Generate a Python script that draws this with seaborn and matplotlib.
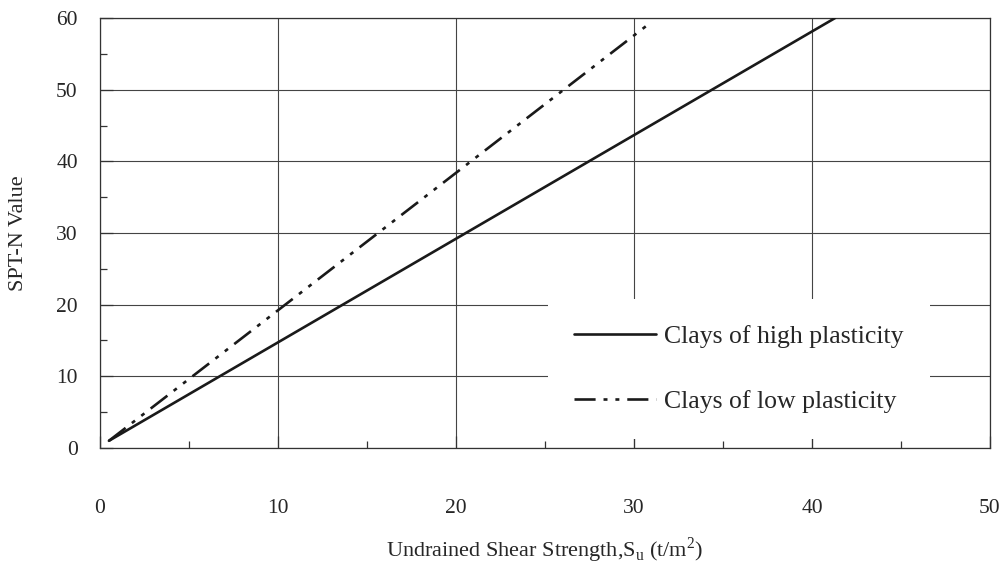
import matplotlib
matplotlib.use("Agg")
import matplotlib.pyplot as plt
import seaborn as sns
import pandas as pd
from matplotlib.ticker import MultipleLocator
from matplotlib.lines import Line2D

# Data
su_high = [0.5, 41.3]
n_high = [1.0, 60.0]
su_low = [0.5, 30.8]
n_low = [1.0, 59.1]
series_names = ["Clays of high plasticity", "Clays of low plasticity"]

df = pd.concat([
    pd.DataFrame({"Su": su_high, "N": n_high, "series": series_names[0]}),
    pd.DataFrame({"Su": su_low, "N": n_low, "series": series_names[1]}),
])

sns.set_theme(style="white")
plt.rcParams["font.family"] = ["Liberation Serif", "DejaVu Serif"]
plt.rcParams["mathtext.fontset"] = "custom"
plt.rcParams["mathtext.rm"] = "Liberation Serif"

fig = plt.figure(figsize=(10.03, 5.72), dpi=100)
ax = fig.add_axes([0.0997, 0.2168, 0.8873, 0.7517])

ax.grid(True, which="major", color="#444444", linewidth=0.8)
ax.set_axisbelow(True)

dash_low = (8, 3, 1.5, 3, 1.5, 3)
sns.lineplot(data=df, x="Su", y="N", hue="series", style="series",
             palette=["#1a1a1a", "#1a1a1a"],
             dashes={series_names[0]: "", series_names[1]: dash_low},
             linewidth=1.9, ax=ax, legend=False, zorder=3)

ax.set_xlim(0, 50)
ax.set_ylim(0, 60)
ax.xaxis.set_major_locator(MultipleLocator(10))
ax.xaxis.set_minor_locator(MultipleLocator(5))
ax.yaxis.set_major_locator(MultipleLocator(10))
ax.yaxis.set_minor_locator(MultipleLocator(5))

ax.tick_params(axis="x", which="major", direction="in", length=9, width=0.9,
               color="#333333", pad=37, labelsize=15.5, bottom=True, top=False)
ax.tick_params(axis="x", which="minor", direction="in", length=5, width=0.9,
               color="#333333", bottom=True, top=False)
ax.tick_params(axis="y", which="major", direction="in", length=9, width=0.9,
               color="#333333", pad=16, labelsize=15.5, left=True, right=False)
ax.tick_params(axis="y", which="minor", direction="in", length=5, width=0.9,
               color="#333333", left=True, right=False)

for s in ax.spines.values():
    s.set_color("#333333")
    s.set_linewidth(0.9)

ax.set_xlabel(r"Undrained Shear Strength,S$_{\mathrm{u}}$ (t/m$^{\mathrm{2}}$)",
              fontsize=16, labelpad=12)
ax.set_ylabel("SPT-N Value", fontsize=16, labelpad=20)

handles = [
    Line2D([], [], color="#1a1a1a", linewidth=1.9, linestyle="-"),
    Line2D([], [], color="#1a1a1a", linewidth=1.9, linestyle=(0, dash_low)),
]
leg = ax.legend(handles, series_names, loc="lower left",
                bbox_to_anchor=(0.503, 0.021),
                frameon=True, fontsize=18.5, handlelength=3.2, handletextpad=0.32,
                labelspacing=1.62, borderpad=1.02, borderaxespad=0,
                fancybox=False, framealpha=1)
leg.get_frame().set_facecolor("white")
leg.get_frame().set_edgecolor("none")
leg.set_zorder(5)

fig.savefig("out.png", dpi=100)
